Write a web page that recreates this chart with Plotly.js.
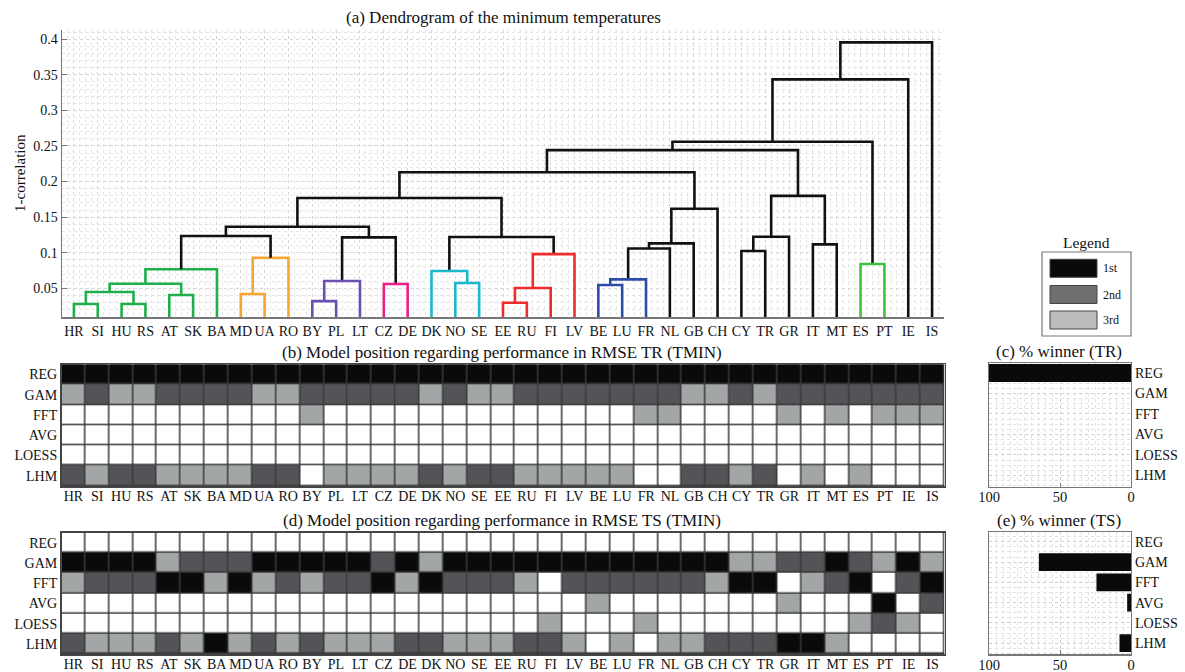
<!DOCTYPE html>
<html><head><meta charset="utf-8">
<script src="https://cdn.plot.ly/plotly-3.0.1.min.js"></script>
<style>html,body{margin:0;padding:0;background:#fff}#chart{width:1185px;height:672px}</style>
</head><body><div id="chart"></div>
<script>
// ---------------- DATA ----------------
const countries = ['HR','SI','HU','RS','AT','SK','BA','MD','UA','RO','BY','PL','LT','CZ','DE','DK','NO','SE','EE','RU','FI','LV','BE','LU','FR','NL','GB','CH','CY','TR','GR','IT','MT','ES','PT','IE','IS'];
const models = ['REG','GAM','FFT','AVG','LOESS','LHM'];
const rankLabels = ['1st','2nd','3rd'];
const dendroTicks = [0.05,0.1,0.15,0.2,0.25,0.3,0.35,0.4];
const dendroTickText = ['0.05','0.1','0.15','0.2','0.25','0.3','0.35','0.4'];
const pctTicks = [0,50,100];

// dendrogram linkage (children: leaf code or 'm<k>' = k-th merge)
const linkA = ['HR','HU','m0','AT','m2','m4','MD','m6','m5','BY','m9','CZ','m10','m8','NO','DK','EE','m16','m17','m15','m13','BE','m21','m22','m23','m24','m20','CY','m27','IT','m28','m26','ES','m31','m33','m34'];
const linkB = ['SI','RS','m1','SK','m3','BA','UA','RO','m7','PL','LT','DE','m11','m12','SE','m14','RU','FI','LV','m18','m19','LU','FR','NL','GB','CH','m25','TR','GR','MT','m29','m30','PT','m32','IE','IS'];
const linkH = [0.028,0.028,0.0448,0.0406,0.0565,0.0767,0.042,0.093,0.1235,0.032,0.0602,0.056,0.1216,0.1365,0.0574,0.0743,0.0298,0.0504,0.098,0.122,0.1768,0.0546,0.0626,0.106,0.1132,0.1618,0.213,0.1024,0.1225,0.1118,0.1799,0.2442,0.0841,0.2559,0.3436,0.3955];
const linkGroup = ['g1','g1','g1','g1','g1','g1','or','or','k','pu','pu','pk','k','k','cy','cy','re','re','re','k','k','bl','bl','k','k','k','k','k','k','k','k','k','g2','k','k','k'];

// rank of each model per country, (b) training: 0 = not in top 3
const rankTR = {
  REG:  [1,1,1,1,1,1,1,1,1,1,1,1,1,1,1,1,1,1,1,1,1,1,1,1,1,1,1,1,1,1,1,1,1,1,1,1,1],
  GAM:  [3,2,3,3,2,2,2,2,3,3,2,2,2,2,2,3,2,3,3,2,2,2,2,2,2,2,3,3,2,3,2,2,2,2,2,2,2],
  FFT:  [0,0,0,0,0,0,0,0,0,0,3,0,0,0,0,0,0,0,0,0,0,0,0,0,3,3,0,0,0,0,3,0,3,0,3,3,3],
  AVG:  [0,0,0,0,0,0,0,0,0,0,0,0,0,0,0,0,0,0,0,0,0,0,0,0,0,0,0,0,0,0,0,0,0,0,0,0,0],
  LOESS:[0,0,0,0,0,0,0,0,0,0,0,0,0,0,0,0,0,0,0,0,0,0,0,0,0,0,0,0,0,0,0,0,0,0,0,0,0],
  LHM:  [2,3,2,2,3,3,3,3,2,2,0,3,3,3,3,2,3,2,2,3,3,3,3,3,0,0,2,2,3,2,0,3,0,3,0,0,0]
};
// (d) test
const rankTS = {
  REG:  [0,0,0,0,0,0,0,0,0,0,0,0,0,0,0,0,0,0,0,0,0,0,0,0,0,0,0,0,0,0,0,0,0,0,0,0,0],
  GAM:  [1,1,1,1,3,2,2,2,1,1,1,1,1,2,1,3,1,1,1,1,1,1,1,1,1,1,1,1,3,3,2,2,1,2,3,1,3],
  FFT:  [3,2,2,2,1,1,3,1,3,2,3,2,2,1,3,1,2,2,2,3,0,2,2,2,2,2,2,3,1,1,0,3,2,1,0,2,1],
  AVG:  [0,0,0,0,0,0,0,0,0,0,0,0,0,0,0,0,0,0,0,0,0,0,3,0,0,0,0,0,0,0,3,0,0,0,1,0,2],
  LOESS:[0,0,0,0,0,0,0,0,0,0,0,0,0,0,0,0,0,0,0,0,3,0,0,0,3,0,0,0,0,0,0,0,0,3,2,3,0],
  LHM:  [2,3,3,3,2,3,1,3,2,3,2,3,3,3,2,2,3,3,3,2,2,3,0,3,0,3,3,2,2,2,1,1,3,0,0,0,0]
};

// ---------------- STYLE ----------------
const W = 1185, H = 672;
const FONT = 'Liberation Serif, Times New Roman, serif';
const groupColor = {g1:'#1fae4b', or:'#f7a531', pu:'#6a4fb0', pk:'#ec1f86', cy:'#1bb8cc', re:'#ef2b2d', bl:'#2a4ea6', g2:'#3dc23c', k:'#111111'};
const rankColor = ['#ffffff','#0a0a0a','#545458','#a3a6a6'];
const legendColor = ['#0a0a0a','#6f6f6f','#bcbcbc'];
const dx = v => v / W;
const dy = v => 1 - v / H;

// ---------------- DENDROGRAM ----------------
const pos = {}, hgt = {};
countries.forEach((c, i) => { pos[c] = i + 1; hgt[c] = 0; });
const lines = {};
linkA.forEach((a, k) => {
  const b = linkB[k], h = linkH[k], g = linkGroup[k];
  const xa = pos[a], xb = pos[b];
  if (!lines[g]) lines[g] = {x: [], y: []};
  lines[g].x.push(xa, xa, xb, xb, null);
  lines[g].y.push(hgt[a], h, h, hgt[b], null);
  pos['m' + k] = (xa + xb) / 2; hgt['m' + k] = h;
});
const traces = [];
Object.keys(lines).forEach(g => {
  traces.push({type: 'scatter', mode: 'lines', x: lines[g].x, y: lines[g].y, xaxis: 'x', yaxis: 'y',
    line: {color: groupColor[g], width: 2.6}, hoverinfo: 'skip', showlegend: false, connectgaps: false});
});

// ---------------- HEATMAPS ----------------
const cs = [[0, rankColor[0]], [1/6, rankColor[0]], [1/6, rankColor[1]], [0.5, rankColor[1]], [0.5, rankColor[2]], [5/6, rankColor[2]], [5/6, rankColor[3]], [1, rankColor[3]]];
function heat(rank, xa, ya) {
  return {type: 'heatmap', x: countries, y: models, z: models.map(m => rank[m]), zmin: 0, zmax: 3,
    colorscale: cs, showscale: false, xgap: 1.5, ygap: 1.5, xaxis: xa, yaxis: ya, hoverinfo: 'skip'};
}
traces.push(heat(rankTR, 'x2', 'y2'));
traces.push(heat(rankTS, 'x3', 'y3'));

// ---------------- % WINNER BARS ----------------
function winners(rank) { return models.map(m => 100 * rank[m].filter(v => v === 1).length / countries.length); }
function bars(rank, xa, ya) {
  return {type: 'bar', orientation: 'h', x: winners(rank), y: models.map((m, i) => i), width: 0.88,
    marker: {color: rankColor[1], line: {width: 0}}, xaxis: xa, yaxis: ya, hoverinfo: 'skip', showlegend: false};
}
traces.push(bars(rankTR, 'x4', 'y4'));
traces.push(bars(rankTS, 'x5', 'y5'));

// ---------------- LAYOUT ----------------
const tickFont = {family: FONT, size: 14, color: '#111'};
const dendroX = [dx(62), dx(944)];
const heatAxisX = (anchor, dom) => ({domain: dom, anchor: anchor, type: 'category', range: [-0.5, countries.length - 0.5],
  showgrid: false, zeroline: false, showline: true, mirror: true, linecolor: '#444', linewidth: 1.5,
  ticks: '', tickfont: tickFont, ticklabelstandoff: -3, fixedrange: true});
const heatAxisY = (anchor, dom) => ({domain: dom, anchor: anchor, type: 'category', autorange: 'reversed',
  showgrid: false, zeroline: false, showline: true, mirror: true, linecolor: '#444', linewidth: 1.5,
  ticks: '', tickfont: tickFont, fixedrange: true});
const barAxisX = (anchor, dom) => ({domain: dom, anchor: anchor, range: [100, 0], tickvals: pctTicks,
  showgrid: true, gridcolor: '#d0d0d0', griddash: 'dot', zeroline: false, showline: true, mirror: true,
  linecolor: '#777', linewidth: 1.2, ticks: 'inside', ticklen: 4, tickcolor: '#777', ticklabelstandoff: -3,
  tickfont: {family: FONT, size: 14.5, color: '#111'},
  minor: {dtick: 5, tick0: 0, showgrid: true, gridcolor: '#e2e2e2', griddash: 'dot', ticklen: 0}});
const barAxisY = (anchor, dom) => ({domain: dom, anchor: anchor, range: [5.55, -0.5], side: 'right',
  tickvals: models.map((m, i) => i), ticktext: models,
  showgrid: true, gridcolor: '#d0d0d0', griddash: 'dot', zeroline: false, showline: true, mirror: true,
  linecolor: '#777', linewidth: 1.2, ticks: '', tickfont: tickFont,
  minor: {dtick: 0.25, tick0: 0, showgrid: true, gridcolor: '#e2e2e2', griddash: 'dot', ticklen: 0}});

const ann = (text, x, y, size, extra) => Object.assign({text: text, x: dx(x), y: dy(y), xref: 'paper', yref: 'paper',
  xanchor: 'center', yanchor: 'middle', showarrow: false, font: {family: FONT, size: size, color: '#111'}}, extra || {});

const layout = {
  width: W, height: H, margin: {l: 0, r: 0, t: 0, b: 0}, paper_bgcolor: '#fff', plot_bgcolor: '#fff',
  showlegend: false, font: {family: FONT, color: '#111'},
  xaxis: {domain: dendroX, anchor: 'y', range: [0.5, countries.length + 0.5],
    tickvals: countries.map((c, i) => i + 1), ticktext: countries, tickfont: tickFont, ticks: '',
    showgrid: true, gridcolor: '#d6d6d6', griddash: 'dot', zeroline: false, showline: true, linecolor: '#777', linewidth: 1.5,
    minor: {dtick: 0.25, tick0: 0.5, showgrid: true, gridcolor: '#e6e6e6', griddash: 'dot', ticklen: 0}, fixedrange: true},
  yaxis: {domain: [dy(317.3), dy(29.5)], anchor: 'x', range: [0.0093, 0.4136],
    tickvals: dendroTicks, ticktext: dendroTickText, tickfont: tickFont, ticks: 'inside', ticklen: 5, tickcolor: '#777',
    showgrid: true, gridcolor: '#d6d6d6', griddash: 'dot', zeroline: false, showline: true, linecolor: '#777', linewidth: 1.5,
    minor: {dtick: 0.01, tick0: 0, showgrid: true, gridcolor: '#e6e6e6', griddash: 'dot', ticklen: 0}, fixedrange: true},
  xaxis2: heatAxisX('y2', [dx(61.5), dx(944.5)]),
  yaxis2: heatAxisY('x2', [dy(486), dy(364.3)]),
  xaxis3: heatAxisX('y3', [dx(61.5), dx(944.5)]),
  yaxis3: heatAxisY('x3', [dy(654), dy(532.7)]),
  xaxis4: barAxisX('y4', [dx(989), dx(1131)]),
  yaxis4: barAxisY('x4', [dy(486.7), dy(362.7)]),
  xaxis5: barAxisX('y5', [dx(989), dx(1131)]),
  yaxis5: barAxisY('x5', [dy(654.3), dy(531.7)]),
  shapes: [
    {type: 'rect', xref: 'x2', yref: 'y2', x0: -0.5, x1: countries.length - 0.5, y0: -0.5, y1: models.length - 0.5, fillcolor: '#3a3a3a', line: {width: 0}, layer: 'below'},
    {type: 'rect', xref: 'x3', yref: 'y3', x0: -0.5, x1: countries.length - 0.5, y0: -0.5, y1: models.length - 0.5, fillcolor: '#3a3a3a', line: {width: 0}, layer: 'below'},
    {type: 'rect', xref: 'paper', yref: 'paper', x0: dx(1042), x1: dx(1131), y0: dy(336), y1: dy(252), fillcolor: '#fff', line: {color: '#777', width: 1.2}}
  ],
  annotations: [
    ann('(a) Dendrogram of the minimum temperatures', 503, 17, 17),
    ann('1-correlation', 20, 173, 15, {textangle: -90}),
    ann('(b) Model position regarding performance in RMSE TR (TMIN)', 502, 352, 17),
    ann('(d) Model position regarding performance in RMSE TS (TMIN)', 502, 520, 17),
    ann('(c) % winner (TR)', 1059, 351, 17),
    ann('(e) % winner (TS)', 1059, 520, 17),
    ann('Legend', 1086, 243, 15.5)
  ]
};
const legRows = [268.3, 294.5, 320];
rankLabels.forEach((lab, i) => {
  layout.shapes.push({type: 'rect', xref: 'paper', yref: 'paper', x0: dx(1050), x1: dx(1097), y0: dy(legRows[i] + 9), y1: dy(legRows[i] - 9),
    fillcolor: legendColor[i], line: {color: '#444', width: 1}});
  layout.annotations.push(ann(lab, 1101, legRows[i], 12, {xanchor: 'left'}));
});

Plotly.newPlot('chart', traces, layout, {displayModeBar: false, staticPlot: true});
</script>
</body></html>
